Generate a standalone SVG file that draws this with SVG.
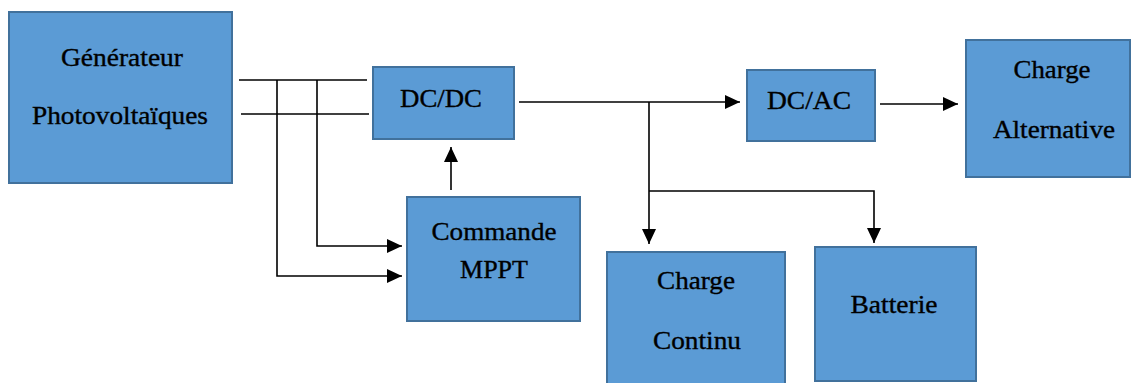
<svg xmlns="http://www.w3.org/2000/svg" width="1134" height="383" viewBox="0 0 1134 383">
<defs>
<style>
.box{fill:#5B9BD5;stroke:#41719C;stroke-width:2}
.t{font-family:"Liberation Serif","Times New Roman",serif;font-size:25px;fill:#000;stroke:#000;stroke-width:0.35;text-anchor:middle}
.ln{stroke:#000;stroke-width:1.6;fill:none}
</style>
<marker id="ah" markerUnits="userSpaceOnUse" markerWidth="15" markerHeight="14" refX="15" refY="7" orient="auto">
<path d="M0,0 L15,7 L0,14 z" fill="#000"/>
</marker>
</defs>
<rect width="1134" height="383" fill="#fff"/>
<g id="connectors">
<line class="ln" x1="239" y1="80" x2="367" y2="80"/>
<line class="ln" x1="241" y1="114" x2="369" y2="114"/>
<polyline class="ln" points="317,80 317,246 402,246" marker-end="url(#ah)"/>
<polyline class="ln" points="277,80 277,276 402,276" marker-end="url(#ah)"/>
<line class="ln" x1="451" y1="190" x2="451" y2="147" marker-end="url(#ah)"/>
<line class="ln" x1="519" y1="102" x2="740" y2="102" marker-end="url(#ah)"/>
<line class="ln" x1="649" y1="102" x2="649" y2="244" marker-end="url(#ah)"/>
<polyline class="ln" points="649,191 874,191 874,243" marker-end="url(#ah)"/>
<line class="ln" x1="880" y1="104" x2="958" y2="104" marker-end="url(#ah)"/>
</g>
<g id="generateur">
<rect class="box" x="9" y="12" width="223" height="171"/>
<text class="t" x="122" y="66" textLength="122" lengthAdjust="spacingAndGlyphs">Générateur</text>
<text class="t" x="120" y="124" textLength="176" lengthAdjust="spacingAndGlyphs">Photovoltaïques</text>
</g>
<g id="dcdc">
<rect class="box" x="373" y="67" width="141" height="72"/>
<text class="t" x="441" y="107" textLength="82" lengthAdjust="spacingAndGlyphs">DC/DC</text>
</g>
<g id="commande">
<rect class="box" x="407" y="197" width="173" height="124"/>
<text class="t" x="494" y="240" textLength="125" lengthAdjust="spacingAndGlyphs">Commande</text>
<text class="t" x="494" y="278" textLength="68" lengthAdjust="spacingAndGlyphs">MPPT</text>
</g>
<g id="dcac">
<rect class="box" x="747" y="70" width="128" height="71"/>
<text class="t" x="809" y="109" textLength="84" lengthAdjust="spacingAndGlyphs">DC/AC</text>
</g>
<g id="charge-alternative">
<rect class="box" x="966" y="40" width="164" height="137"/>
<text class="t" x="1052" y="78" textLength="77" lengthAdjust="spacingAndGlyphs">Charge</text>
<text class="t" x="1054" y="138" textLength="122" lengthAdjust="spacingAndGlyphs">Alternative</text>
</g>
<g id="charge-continu">
<rect class="box" x="607" y="252" width="178" height="140"/>
<text class="t" x="696" y="289" textLength="78" lengthAdjust="spacingAndGlyphs">Charge</text>
<text class="t" x="697" y="349" textLength="88" lengthAdjust="spacingAndGlyphs">Continu</text>
</g>
<g id="batterie">
<rect class="box" x="815" y="247" width="161" height="134"/>
<text class="t" x="894" y="313" textLength="87" lengthAdjust="spacingAndGlyphs">Batterie</text>
</g>
</svg>
